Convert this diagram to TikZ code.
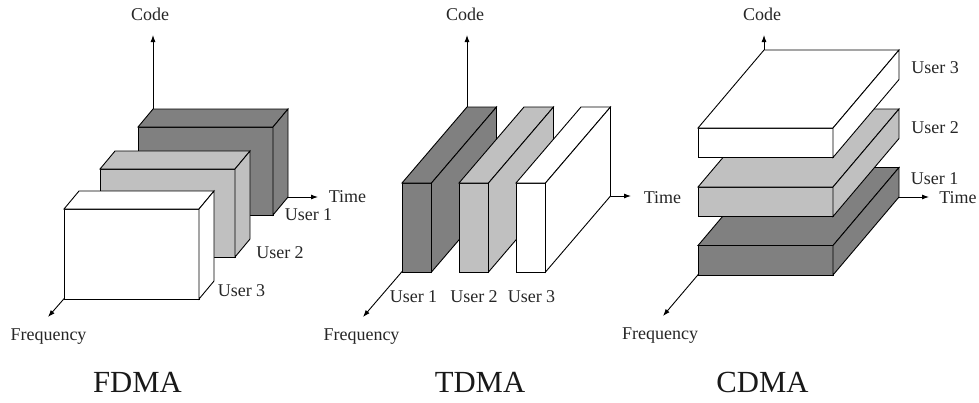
\documentclass[tikz,border=0pt]{standalone}
\usepackage{fontspec}
\setmainfont{Liberation Serif}
\usetikzlibrary{arrows.meta}

\definecolor{slabdark}{RGB}{128,128,128}
\definecolor{slablight}{RGB}{192,192,192}

% Solid block seen from the front-left:
% #1 fill, (#2,#3) front bottom-left corner, #4 width, #5 height,
% (#6,#7) depth offset (right, up)
\newcommand\drawslab[7]{%
  \filldraw[slab, fill=#1] (#2,#3) rectangle ++(#4,-#5);
  \filldraw[slab, fill=#1] (#2,#3-#5) -- ++(#6,-#7) -- ++(#4,0) -- ++(-#6,#7) -- cycle;
  \filldraw[slab, fill=#1] (#2+#4,#3) -- ++(0,-#5) -- ++(#6,-#7) -- ++(0,#5) -- cycle;
}

\begin{document}
\begin{tikzpicture}[x=1pt, y=-1pt,
  slab/.style={draw=black, line width=0.9pt, line join=miter},
  axis/.style={draw=black, line width=0.9pt, -{Latex[length=7pt,width=5pt]}},
  lbl/.style={font=\fontsize{18}{20}\selectfont, anchor=base, inner sep=0pt, text=black!85},
  ttl/.style={font=\fontsize{30.7}{33}\selectfont, anchor=base, inner sep=0pt, text=black!90}]

\useasboundingbox (0,0) rectangle (979,402);

% ---------------- FDMA ----------------
\coordinate (fO) at (153,197);
\coordinate (fC) at (153,35);
\coordinate (fT) at (318,197);
\coordinate (fF) at (48,317);
\draw[axis] (fO) -- (fC);
\draw[axis] (fO) -- (fT);
\draw[axis] (fO) -- (fF);
\drawslab{slabdark}{138}{215}{135}{88}{15}{18}
\drawslab{slablight}{100}{257}{135}{88}{15}{18}
\drawslab{white}{64}{299}{135}{90}{15}{18}

\node[lbl] (fCode) at (150,20) {Code};
\node[lbl] (fTime) at (347.5,202) {Time};
\node[lbl] (fFreq) at (48.5,340) {Frequency};
\node[lbl] (fU1) at (308.5,220) {User 1};
\node[lbl] (fU2) at (280,258) {User 2};
\node[lbl] (fU3) at (241.5,296) {User 3};
\node[ttl] (fTitle) at (137.5,392) {FDMA};

% ---------------- TDMA ----------------
\coordinate (tO) at (467,196);
\coordinate (tC) at (467,35);
\coordinate (tT) at (631,196);
\coordinate (tF) at (363,317);
\draw[axis] (tO) -- (tC);
\draw[axis] (tO) -- (tT);
\draw[axis] (tO) -- (tF);
\drawslab{slabdark}{402}{272}{29.5}{89}{65}{76}
\drawslab{slablight}{459}{272}{29.5}{89}{65}{76}
\drawslab{white}{516}{272}{29.5}{89}{65}{76}

\node[lbl] (tCode) at (465,20) {Code};
\node[lbl] (tTime) at (662.5,203.5) {Time};
\node[lbl] (tFreq) at (361.5,340) {Frequency};
\node[lbl] (tU1) at (413.5,302) {User 1};
\node[lbl] (tU2) at (474,302) {User 2};
\node[lbl] (tU3) at (531.5,302) {User 3};
\node[ttl] (tTitle) at (480,392) {TDMA};

% ---------------- CDMA ----------------
\coordinate (cO) at (764,197);
\coordinate (cC) at (764,35);
\coordinate (cT) at (929,197);
\coordinate (cF) at (663,316);
\draw[axis] (cO) -- (cC);
\draw[axis] (cO) -- (cT);
\draw[axis] (cO) -- (cF);
\drawslab{slabdark}{698}{275}{135}{29.5}{66}{78}
\drawslab{slablight}{698}{216.5}{135}{29.5}{66}{78}
\drawslab{white}{698}{157.5}{135}{29.5}{66}{78}

\node[lbl] (cCode) at (762,20) {Code};
\node[lbl] (cTime) at (958,203) {Time};
\node[lbl] (cFreq) at (660,339) {Frequency};
\node[lbl] (cU3) at (935,73) {User 3};
\node[lbl] (cU2) at (935,133) {User 2};
\node[lbl] (cU1) at (934.5,184) {User 1};
\node[ttl] (cTitle) at (762.5,392) {CDMA};
\end{tikzpicture}
\end{document}
